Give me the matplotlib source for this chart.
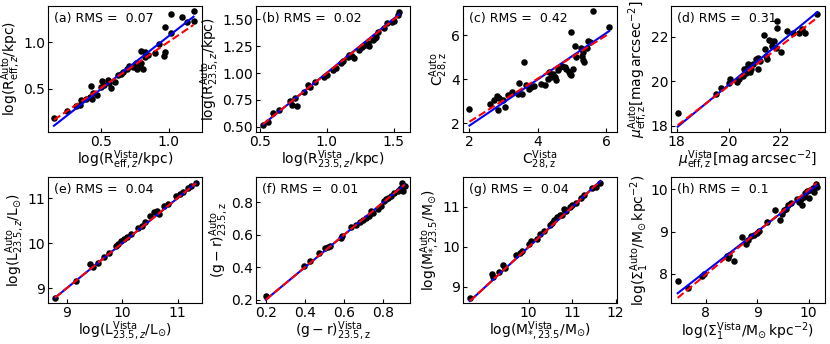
import numpy as np
import matplotlib
matplotlib.use("Agg")
import matplotlib.pyplot as plt

# ---------------- data ----------------
a_x = [0.154, 0.25, 0.318, 0.343, 0.355, 0.392, 0.416, 0.424, 0.441, 0.436, 0.473, 0.502, 0.522, 0.51,
       0.551, 0.559, 0.576, 0.6, 0.625, 0.644, 0.661, 0.693, 0.706, 0.735, 0.76, 0.767, 0.784, 0.777,
       0.796, 0.809, 0.796, 0.821, 0.826, 0.845, 0.894, 0.926, 0.963, 0.973, 0.973, 1.012, 1.017,
       1.095, 1.134, 1.181, 1.181]
a_y = [0.179, 0.257, 0.311, 0.322, 0.375, 0.386, 0.411, 0.525, 0.457, 0.393, 0.429, 0.518, 0.543, 0.579,
       0.589, 0.564, 0.507, 0.571, 0.65, 0.661, 0.679, 0.714, 0.75, 0.732, 0.779, 0.714, 0.732, 0.768,
       0.779, 0.714, 0.911, 0.893, 0.839, 0.864, 0.886, 0.982, 0.85, 0.893, 1.171, 1.304, 1.1,
       1.279, 1.222, 1.339, 1.232]

b_x = [0.522, 0.557, 0.596, 0.643, 0.727, 0.740, 0.758, 0.780, 0.832, 0.858, 0.872, 0.911, 0.976, 1.003,
       1.047, 1.068, 1.102, 1.120, 1.160, 1.168, 1.186, 1.205, 1.239, 1.265, 1.283, 1.305, 1.317, 1.344,
       1.357, 1.370, 1.383, 1.423, 1.449, 1.488, 1.502, 1.528, 1.541]
b_y = [0.512, 0.543, 0.630, 0.651, 0.738, 0.698, 0.769, 0.691, 0.821, 0.892, 0.870, 0.914, 0.963, 0.985,
       1.025, 1.046, 1.093, 1.108, 1.148, 1.170, 1.154, 1.139, 1.216, 1.247, 1.262, 1.278, 1.253, 1.309,
       1.324, 1.340, 1.386, 1.417, 1.463, 1.478, 1.488, 1.540, 1.571]

c_x = [2.0, 2.605, 2.73, 2.81, 2.86, 2.83, 3.025, 2.976, 3.12, 3.25, 3.415, 3.44, 3.54, 3.59, 3.66, 3.73,
       3.805, 3.875, 4.1, 4.195, 4.29, 4.32, 4.39, 4.44, 4.49, 4.52, 4.585, 4.655, 4.71, 4.78, 4.83, 4.91,
       4.95, 4.98, 5.02, 4.98, 5.07, 5.12, 5.27, 5.32, 5.30, 5.32, 5.34, 5.46, 5.43, 5.51, 5.61, 6.08]
c_y = [2.65, 2.90, 3.05, 3.23, 3.15, 2.6, 2.75, 3.05, 3.28, 3.4, 3.31, 3.83, 3.31, 4.80, 3.72, 3.57,
       3.65, 3.70, 3.80, 3.72, 3.99, 4.35, 4.10, 4.25, 4.10, 3.95, 4.40, 4.55, 4.62, 4.55, 4.47, 4.32,
       4.25, 6.15, 4.47, 4.17, 5.52, 5.0, 5.40, 5.22, 5.04, 4.85, 4.77, 5.75, 5.40, 5.67, 7.1, 6.39]

d_x = [18.04, 19.51, 19.71, 20.03, 20.06, 20.32, 20.41, 20.54, 20.58, 20.67, 20.71, 20.76, 20.83, 20.88,
       20.96, 21.05, 21.12, 21.14, 21.22, 21.35, 21.40, 21.44, 21.5, 21.56, 21.65, 21.69, 21.76, 21.82,
       21.88, 21.88, 22.01, 22.27, 22.5, 22.72, 22.85, 22.94, 23.42]
d_y = [18.6, 19.42, 19.72, 19.91, 20.09, 19.97, 20.09, 20.24, 20.54, 20.39, 20.61, 20.76, 20.42, 20.54,
       20.76, 20.99, 21.06, 20.54, 20.91, 22.06, 21.43, 21.13, 21.01, 21.87, 21.79, 21.57, 21.82, 21.49,
       22.7, 22.4, 21.31, 22.25, 22.15, 22.18, 22.33, 22.18, 23.04]

e_x = [8.79, 9.17, 9.42, 9.48, 9.56, 9.67, 9.76, 9.88, 9.92, 9.98, 10.04, 10.09, 10.16, 10.28, 10.35,
       10.42, 10.50, 10.58, 10.62, 10.67, 10.76, 10.82, 10.97, 11.05, 11.09, 11.18, 11.24, 11.33]
e_y = [8.77, 9.16, 9.53, 9.46, 9.55, 9.70, 9.79, 9.93, 9.98, 10.05, 10.09, 10.13, 10.20, 10.33, 10.39,
       10.46, 10.61, 10.69, 10.72, 10.65, 10.82, 10.87, 11.04, 11.10, 11.13, 11.22, 11.28, 11.34]

f_x = [0.20, 0.396, 0.427, 0.47, 0.504, 0.516, 0.526, 0.585, 0.59, 0.636, 0.659, 0.681, 0.698, 0.71,
       0.727, 0.736, 0.745, 0.77, 0.788, 0.801, 0.813, 0.822, 0.836, 0.856, 0.874, 0.882, 0.894, 0.908,
       0.899, 0.891]
f_y = [0.22, 0.405, 0.44, 0.485, 0.516, 0.527, 0.531, 0.578, 0.589, 0.647, 0.661, 0.676, 0.692, 0.703,
       0.713, 0.744, 0.734, 0.759, 0.775, 0.806, 0.817, 0.827, 0.837, 0.858, 0.868, 0.879, 0.915, 0.90,
       0.868, 0.889]

g_x = [8.65, 9.15, 9.19, 9.31, 9.42, 9.46, 9.72, 9.79, 9.85, 10.0, 10.05, 10.19, 10.27, 10.36, 10.48,
       10.54, 10.59, 10.65, 10.72, 10.77, 10.82, 10.87, 10.95, 11.0, 11.08, 11.21, 11.28, 11.46, 11.54, 11.65]
g_y = [8.73, 9.33, 9.25, 9.38, 9.56, 9.48, 9.79, 9.86, 9.89, 10.08, 10.14, 10.21, 10.33, 10.39, 10.54,
       10.61, 10.67, 10.75, 10.79, 10.81, 10.96, 10.89, 11.0, 11.06, 11.11, 11.23, 11.31, 11.48, 11.5, 11.61]

h_x = [7.45, 7.65, 7.92, 7.97, 8.41, 8.45, 8.43, 8.54, 8.70, 8.79, 8.82, 8.87, 8.94, 9.0, 9.03, 9.19,
       9.34, 9.45, 9.48, 9.52, 9.57, 9.61, 9.65, 9.77, 9.81, 9.85, 9.87, 9.92, 9.94, 9.97, 10.0, 10.03,
       10.08, 10.11, 10.16, 10.15]
h_y = [7.84, 7.67, 7.96, 7.99, 8.41, 8.44, 8.37, 8.30, 8.87, 8.71, 8.79, 8.89, 8.91, 8.97, 9.01, 9.23,
       9.50, 9.28, 9.42, 9.50, 9.54, 9.62, 9.68, 9.78, 9.70, 9.76, 9.62, 9.82, 9.90, 9.96, 9.80, 9.99,
       10.02, 9.94, 10.06, 10.12]

labels = ["(a)", "(b)", "(c)", "(d)", "(e)", "(f)", "(g)", "(h)"]
rms = ["0.07", "0.02", "0.42", "0.31", "0.04", "0.01", "0.04", "0.1"]
# fitted line (blue, solid) and comparison line (red, dashed): slope, intercept
blue_fit = [(1.147, -0.077), (1.01, -0.008), (1.049, -0.198), (0.954, 0.76),
            (1.0, 0.0), (1.0, 0.0), (1.0, 0.0), (0.941, 0.53)]
red_fit = [(1.0, 0.008), (1.0, 0.0), (0.978, 0.12), (0.896, 1.87),
           (1.0, 0.0), (1.0, 0.0), (1.0, 0.0), (1.004, -0.05)]

xlabels = [r'$\log(\mathrm{R}^{\mathrm{Vista}}_{\mathrm{eff},z}/\mathrm{kpc})$',
           r'$\log(\mathrm{R}^{\mathrm{Vista}}_{23.5,z}/\mathrm{kpc})$',
           r'$\mathrm{C}^{\mathrm{Vista}}_{28,\mathrm{z}}$',
           r'$\mu^{\mathrm{Vista}}_{\mathrm{eff,z}}[\mathrm{mag\,arcsec^{-2}}]$',
           r'$\log(\mathrm{L}^{\mathrm{Vista}}_{23.5,z}/\mathrm{L}_{\odot})$',
           r'$(\mathrm{g}-\mathrm{r})^{\mathrm{Vista}}_{23.5,\mathrm{z}}$',
           r'$\log(\mathrm{M}^{\mathrm{Vista}}_{*,23.5}/\mathrm{M}_{\odot})$',
           r'$\log(\Sigma^{\mathrm{Vista}}_{1}/\mathrm{M}_{\odot}\,\mathrm{kpc}^{-2})$']
ylabels = [s.replace('Vista', 'Auto') for s in xlabels]

xticks = [[0.5, 1.0], [0.5, 1.0, 1.5], [2, 4, 6], [18, 20, 22], [9, 10, 11],
          [0.2, 0.4, 0.6, 0.8], [10, 11, 12], [8, 9, 10]]
yticks = [[0.5, 1.0], [0.50, 0.75, 1.00, 1.25, 1.50], [2, 4, 6], [18, 20, 22], [9, 10, 11],
          [0.2, 0.4, 0.6, 0.8], [9, 10, 11], [8, 9, 10]]
xtl = [["0.5", "1.0"], ["0.5", "1.0", "1.5"], ["2", "4", "6"], ["18", "20", "22"], ["9", "10", "11"],
       ["0.2", "0.4", "0.6", "0.8"], ["10", "11", "12"], ["8", "9", "10"]]
ytl = [["0.5", "1.0"], ["0.50", "0.75", "1.00", "1.25", "1.50"], ["2", "4", "6"], ["18", "20", "22"],
       ["9", "10", "11"], ["0.2", "0.4", "0.6", "0.8"], ["9", "10", "11"], ["8", "9", "10"]]
xlims = [(0.11, 1.243), (0.47, 1.62), (1.81, 6.31), (17.78, 23.72), (8.66, 11.44),
         (0.15, 0.935), (8.49, 12.03), (7.32, 10.32)]
ylims = [(0.032, 1.393), (0.45, 1.625), (1.61, 7.32), (17.73, 23.38), (8.67, 11.47),
         (0.18, 0.955), (8.6, 11.75), (7.31, 10.29)]

xs = [a_x, b_x, c_x, d_x, e_x, f_x, g_x, h_x]
ys = [a_y, b_y, c_y, d_y, e_y, f_y, g_y, h_y]

# ---------------- figure ----------------
fig = plt.figure(figsize=(8.3, 3.44), dpi=100)
lefts = [0.0578, 0.3084, 0.5578, 0.8084]
bottoms = [0.6163, 0.1192]
W, H = 0.1855, 0.3663
FS = 10

for i in range(8):
    r, c = divmod(i, 4)
    ax = fig.add_axes([lefts[c], bottoms[r], W, H])
    x = np.array(xs[i]); y = np.array(ys[i])
    ax.scatter(x, y, s=22, color='black', zorder=2, linewidths=0)
    xx = np.array([x.min(), x.max()])
    ax.plot(xx, blue_fit[i][0] * xx + blue_fit[i][1], color='blue', lw=1.5, zorder=3)
    ax.plot(xx, red_fit[i][0] * xx + red_fit[i][1], color='red', lw=1.5, ls='--', zorder=4)
    ax.set_xlim(*xlims[i]); ax.set_ylim(*ylims[i])
    ax.set_xticks(xticks[i]); ax.set_xticklabels(xtl[i])
    ax.set_yticks(yticks[i]); ax.set_yticklabels(ytl[i])
    ax.tick_params(direction='in', labelsize=FS, length=3, width=0.8, pad=2)
    ax.set_xlabel(xlabels[i], fontsize=FS, labelpad=0)
    ax.set_ylabel(ylabels[i], fontsize=FS, labelpad=0)
    ax.text(0.04, 0.955, f"{labels[i]} RMS =  {rms[i]}", transform=ax.transAxes,
            ha='left', va='top', fontsize=9)

fig.savefig("out.png", dpi=100)
